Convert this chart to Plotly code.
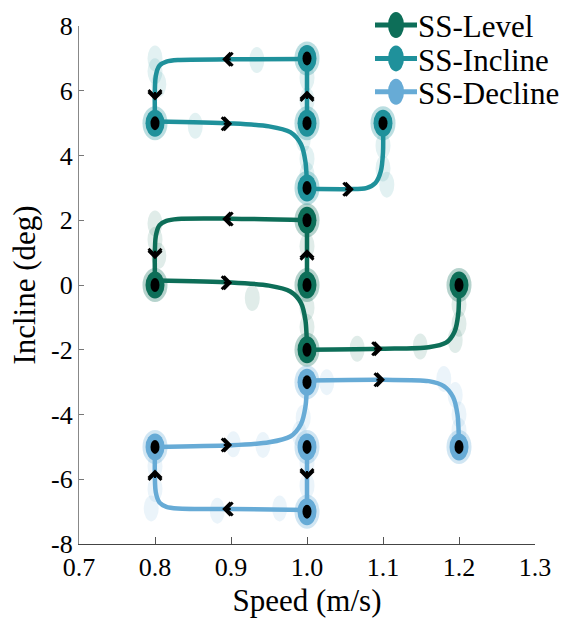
import plotly.graph_objects as go

# ---------------- data ----------------
series_names = ["SS-Level", "SS-Incline", "SS-Decline"]
series_colors = ["#0d6e58", "#1f919b", "#67abd6"]

# steady-state points (speed m/s, incline deg)
level_state_x = [1.0, 1.0, 0.8, 1.0, 1.2]
level_state_y = [0, 2, 0, -2, 0]
incline_state_x = [1.0, 1.0, 0.8, 1.0, 1.1]
incline_state_y = [5, 7, 5, 3, 5]
decline_state_x = [1.0, 1.0, 0.8, 1.0, 1.2]
decline_state_y = [-5, -7, -5, -3, -5]

# transition paths (waypoints, None separates transitions)
level_path_x = [1.0, 1.0, None,
                1.0, 0.9, 0.83, 0.815, 0.806, 0.801, 0.8, None,
                0.8, 0.9, 0.95, 0.978, 0.992, 0.998, 1.0, None,
                1.0, 1.1, 1.16, 1.183, 1.194, 1.199, 1.2]
level_path_y = [0.0, 2.0, None,
                2.0, 2.05, 2.04, 1.98, 1.85, 1.5, 0.0, None,
                0.14, 0.08, -0.02, -0.2, -0.55, -1.1, -2.0, None,
                -2.0, -1.97, -1.92, -1.78, -1.45, -0.9, 0.0]

incline_path_x = [1.0, 1.0, None,
                  1.0, 0.9, 0.83, 0.815, 0.806, 0.801, 0.8, None,
                  0.8, 0.9, 0.95, 0.978, 0.992, 0.998, 1.0, None,
                  1.0, 1.055, 1.078, 1.09, 1.097, 1.1, 1.1]
incline_path_y = [5.0, 7.0, None,
                  6.98, 6.97, 6.95, 6.9, 6.78, 6.45, 5.0, None,
                  5.05, 4.99, 4.9, 4.72, 4.35, 3.8, 3.0, None,
                  2.97, 2.96, 2.99, 3.15, 3.5, 4.1, 5.0]

decline_path_x = [1.0, 1.0, None,
                  1.0, 0.9, 0.83, 0.815, 0.806, 0.801, 0.8, None,
                  0.8, 0.9, 0.95, 0.978, 0.992, 0.998, 1.0, None,
                  1.0, 1.1, 1.16, 1.18, 1.192, 1.198, 1.2]
decline_path_y = [-5.0, -7.0, None,
                  -6.95, -6.92, -6.9, -6.85, -6.72, -6.4, -5.0, None,
                  -5.0, -4.95, -4.86, -4.68, -4.3, -3.75, -3.0, None,
                  -2.95, -2.93, -2.97, -3.12, -3.45, -4.0, -5.0]

# direction arrows (centre x, centre y, direction)
level_arrow_x = [0.895, 0.8, 0.895, 1.0, 1.093]
level_arrow_y = [2.04, 0.95, 0.07, 0.95, -1.97]
level_arrow_dir = ["left", "down", "right", "up", "right"]
incline_arrow_x = [0.895, 0.8, 0.895, 1.0, 1.055]
incline_arrow_y = [6.97, 5.85, 4.98, 5.85, 2.96]
incline_arrow_dir = ["left", "down", "right", "up", "right"]
decline_arrow_x = [1.096, 0.895, 1.0, 0.895, 0.8]
decline_arrow_y = [-2.93, -4.94, -5.85, -6.92, -5.85]
decline_arrow_dir = ["right", "right", "down", "left", "up"]

# faint individual-subject samples
level_blob_x = [0.8, 0.8, 0.805, 0.928, 1.0, 1.0, 1.0, 1.066, 1.149, 1.2, 1.2, 1.195]
level_blob_y = [1.9, 1.4, 0.9, -0.4, 1.2, -0.7, -1.3, -1.97, -1.9, -0.6, -1.2, -1.7]
incline_blob_x = [0.8, 0.8, 0.805, 0.853, 0.934, 1.0, 1.0, 0.995, 1.0, 1.0, 1.1, 1.1, 1.105]
incline_blob_y = [7.0, 6.6, 6.2, 4.92, 6.95, 6.4, 5.7, 4.5, 3.9, 3.4, 4.3, 3.6, 3.1]
decline_blob_x = [1.026, 1.18, 1.195, 1.2, 1.2, 0.903, 0.942, 0.995, 0.99,
                  1.0, 1.0, 0.8, 0.8, 0.795, 0.882, 0.964]
decline_blob_y = [-3.0, -2.9, -3.4, -4.0, -4.5, -4.92, -4.94, -4.1, -4.6,
                  -5.5, -6.2, -5.6, -6.3, -6.9, -6.97, -6.9]

x_ticks = [0.7, 0.8, 0.9, 1.0, 1.1, 1.2, 1.3]
x_tick_text = ["0.7", "0.8", "0.9", "1.0", "1.1", "1.2", "1.3"]
y_ticks = [-8, -6, -4, -2, 0, 2, 4, 6, 8]
y_tick_text = ["-8", "-6", "-4", "-2", "0", "2", "4", "6", "8"]

# ---------------- figure ----------------
SERIF = "Liberation Serif, Times New Roman, DejaVu Serif, serif"
W, H = 564, 638
ML, MR, MT, MB = 79, 29, 16, 94
PW, PH = W - ML - MR, H - MT - MB

paths = [(level_path_x, level_path_y), (incline_path_x, incline_path_y), (decline_path_x, decline_path_y)]
states = [(level_state_x, level_state_y), (incline_state_x, incline_state_y), (decline_state_x, decline_state_y)]
arrows = [(level_arrow_x, level_arrow_y, level_arrow_dir),
          (incline_arrow_x, incline_arrow_y, incline_arrow_dir),
          (decline_arrow_x, decline_arrow_y, decline_arrow_dir)]
blobs = [(level_blob_x, level_blob_y), (incline_blob_x, incline_blob_y), (decline_blob_x, decline_blob_y)]

fig = go.Figure()
shapes = []
annotations = []


def ellipse(x, y, w, h, color, opacity, layer, xref="x", yref="y"):
    return dict(type="circle", xref=xref, yref=yref, xsizemode="pixel", ysizemode="pixel",
                xanchor=x, yanchor=y, x0=-w / 2, x1=w / 2, y0=-h / 2, y1=h / 2,
                fillcolor=color, opacity=opacity, line=dict(width=0), layer=layer)


for i, name in enumerate(series_names):
    col = series_colors[i]
    px_, py_ = paths[i]
    fig.add_trace(go.Scatter(x=px_, y=py_, mode="lines", name=name,
                             line=dict(color=col, width=4.5, shape="spline", smoothing=0.8),
                             connectgaps=False, showlegend=False, hoverinfo="skip"))
    bx, by = blobs[i]
    for x, y in zip(bx, by):
        shapes.append(ellipse(x, y, 15, 26, col, 0.13, "below"))

for i, name in enumerate(series_names):
    col = series_colors[i]
    sx, sy = states[i]
    for x, y in zip(sx, sy):
        shapes.append(ellipse(x, y, 25, 34, col, 0.3, "above"))
        shapes.append(ellipse(x, y, 19, 27, col, 1.0, "above"))
        shapes.append(ellipse(x, y, 9, 14, "black", 1.0, "above"))

# arrows (chevron heads, drawn twice with a small offset for a bold stroke)
dir_vec = {"right": (1, 0), "left": (-1, 0), "up": (0, 1), "down": (0, -1)}
for ax_, ay_, ad_ in arrows:
    for x, y, d in zip(ax_, ay_, ad_):
        dx, dy = dir_vec[d]
        for off in (3.0, 5.0):
            annotations.append(dict(x=x, y=y, xref="x", yref="y", text="", showarrow=True,
                                    arrowhead=4, arrowsize=1.25, arrowwidth=2, arrowcolor="black",
                                    ax=-dx * 8, ay=dy * 8, xshift=dx * off, yshift=dy * off,
                                    font=dict(size=2)))

# legend (drawn manually to match the reference layout)
def pxx(p):
    return (p - ML) / PW


def pyy(p):
    return 1 - (p - MT) / PH


legend_rows = [15, 49, 83]
for i, name in enumerate(series_names):
    col = series_colors[i]
    yr = legend_rows[i]
    shapes.append(dict(type="line", xref="paper", yref="paper", x0=pxx(375), x1=pxx(417),
                       y0=pyy(yr), y1=pyy(yr), line=dict(color=col, width=5), layer="above"))
    shapes.append(ellipse(pxx(396), pyy(yr), 16, 26, col, 1.0, "above", "paper", "paper"))
    annotations.append(dict(x=pxx(416), y=pyy(yr + 2), xref="paper", yref="paper", text=name,
                            showarrow=False, xanchor="left", yanchor="middle",
                            font=dict(family=SERIF, size=31, color="black")))

fig.update_layout(
    width=W, height=H,
    margin=dict(l=ML, r=MR, t=MT, b=MB),
    paper_bgcolor="white", plot_bgcolor="white",
    font=dict(family=SERIF, size=26, color="black"),
    shapes=shapes, annotations=annotations,
    showlegend=False,
    xaxis=dict(range=[0.7, 1.3], tickvals=x_ticks, ticktext=x_tick_text,
               ticks="inside", ticklen=7, tickwidth=1, tickcolor="#555",
               showline=True, linecolor="#444", linewidth=1.2, showgrid=False, zeroline=False,
               tickfont=dict(family=SERIF, size=26),
               title=dict(text="Speed (m/s)", font=dict(family=SERIF, size=31), standoff=8)),
    yaxis=dict(range=[-8, 8], tickvals=y_ticks, ticktext=y_tick_text,
               ticks="inside", ticklen=5, tickwidth=1, tickcolor="#777",
               showline=True, linecolor="#888", linewidth=1.2, showgrid=False, zeroline=False,
               tickfont=dict(family=SERIF, size=26),
               title=dict(text="Incline (deg)", font=dict(family=SERIF, size=31), standoff=6)),
)

fig.write_html("out.html")
